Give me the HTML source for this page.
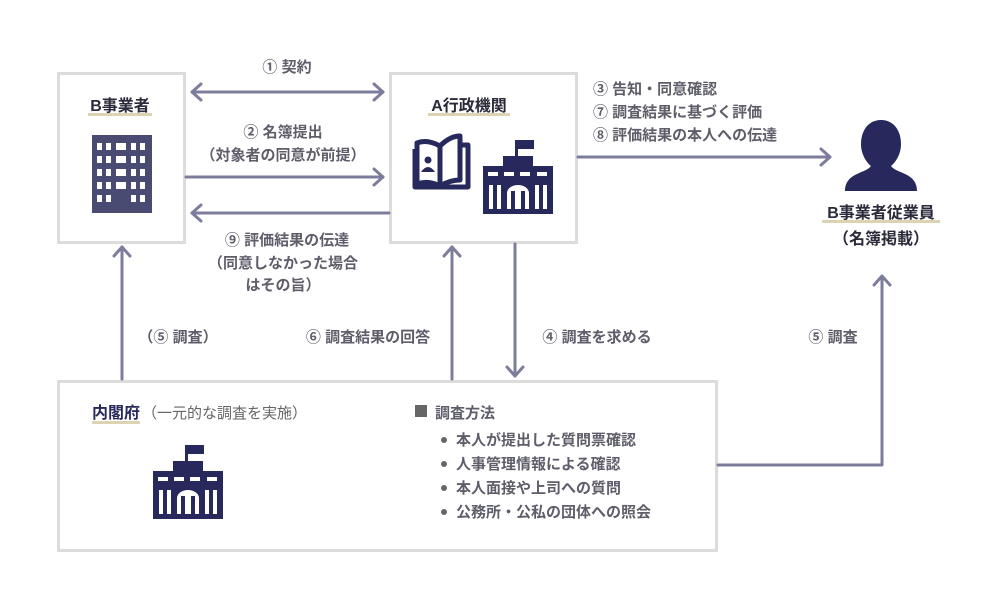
<!DOCTYPE html>
<html><head><meta charset="utf-8"><style>
html,body{margin:0;padding:0;background:#fff;}
svg{display:block;font-family:"Liberation Sans","Noto Sans CJK JP",sans-serif;}
.t{fill:#5e5e6a;font-size:15px;font-weight:bold;}
.h{fill:#2a2a3a;font-size:16px;font-weight:bold;}
</style></head><body>
<svg width="1000" height="610" viewBox="0 0 1000 610" xmlns="http://www.w3.org/2000/svg">
<defs>
<g id="gov">
 <rect x="32" y="0" width="3" height="18" fill="#27285c"/>
 <path d="M35 0 h16 v9 h-16z" fill="#27285c"/>
 <rect x="20" y="16" width="30" height="10" fill="#27285c"/>
 <rect x="0" y="26" width="70" height="48" fill="#27285c"/>
 <g fill="#fff"><rect x="5" y="32" width="10" height="4"/><rect x="21" y="32" width="10" height="4"/><rect x="37" y="32" width="10" height="4"/><rect x="54" y="32" width="10" height="4"/>
 <rect x="6" y="45" width="4" height="24"/><rect x="14" y="45" width="4" height="24"/><rect x="52" y="45" width="4" height="24"/><rect x="60" y="45" width="4" height="24"/>
 <path d="M24 69 v-16 a11 8 0 0 1 22 0 v16 h-4 v-18 h-4 v18 h-6 v-18 h-4 v18z"/></g>
</g>
</defs>
<rect x="58.5" y="73.5" width="126" height="169" fill="#fff" stroke="#dcdcdc" stroke-width="3"/>
<rect x="390.5" y="73.5" width="186" height="169" fill="#fff" stroke="#dcdcdc" stroke-width="3"/>
<rect x="58.5" y="381.5" width="658" height="169" fill="#fff" stroke="#dcdcdc" stroke-width="3"/>

<rect x="88" y="113" width="64" height="3" fill="#dcd3b2"/>
<text x="120" y="111" class="h" text-anchor="middle">B事業者</text>
<rect x="428" y="113" width="82" height="3" fill="#dcd3b2"/>
<text x="469" y="111" class="h" text-anchor="middle">A行政機関</text>

<rect x="92" y="135" width="60" height="78" fill="#4a4b72"/>
<g fill="#fff">
 <g id="row"><rect x="97" y="143" width="5" height="7"/><rect x="106" y="143" width="5" height="7"/><rect x="116" y="143" width="10" height="7"/><rect x="131" y="143" width="5" height="7"/><rect x="140" y="143" width="5" height="7"/></g>
 <use href="#row" y="13"/><use href="#row" y="26"/><use href="#row" y="39"/>
 <rect x="97" y="195" width="5" height="7"/><rect x="106" y="195" width="5" height="7"/><rect x="131" y="195" width="5" height="7"/><rect x="140" y="195" width="5" height="7"/>
</g>
<g fill="none" stroke="#27285c" stroke-width="5" stroke-linejoin="round">
 <path d="M417 143 q10 -4 23 3 v40 q-12 -6 -23 -2z"/>
 <path d="M440 146 q10 -10 20 -10 v44 q-10 0 -20 6z"/>
 <path d="M460 145 h8 v42 h-28 h-25 v-38"/>
</g>
<circle cx="428" cy="160" r="3.5" fill="#27285c"/><path d="M421 172 q7 -10 14 0z" fill="#27285c"/>
<use href="#gov" x="483" y="140"/>
<use href="#gov" x="153" y="445"/>

<path d="M881 120 c-13 0 -20 11 -20 24 c0 10 5 18 10 22 c-3 4 -8 5 -14 8 c-9 4 -12 10 -12 17 h72 c0 -7 -3 -13 -12 -17 c-6 -3 -11 -4 -14 -8 c5 -4 10 -12 10 -22 c0 -13 -7 -24 -20 -24z" fill="#27285c"/>
<rect x="822" y="220" width="118" height="3" fill="#dcd3b2"/>
<text x="881" y="218" class="h" text-anchor="middle">B事業者従業員</text>
<text x="881" y="244" class="h" text-anchor="middle">（名簿掲載）</text>

<g stroke="#7c7c9c" stroke-width="3" fill="none" stroke-linecap="round" stroke-linejoin="round">
 <line x1="192" y1="92" x2="383" y2="92"/><path d="M201 84 l-9 8 l9 8"/><path d="M374 84 l9 8 l-9 8"/>
 <line x1="186" y1="177" x2="383" y2="177"/><path d="M374 169 l9 8 l-9 8"/>
 <line x1="389" y1="213" x2="192" y2="213"/><path d="M201 205 l-9 8 l9 8"/>
 <line x1="578" y1="157" x2="830" y2="157"/><path d="M821 149 l9 8 l-9 8"/>
 <line x1="122" y1="379" x2="122" y2="247"/><path d="M114 256 l8 -9 l8 9"/>
 <line x1="452" y1="379" x2="452" y2="247"/><path d="M444 256 l8 -9 l8 9"/>
 <line x1="515" y1="244" x2="515" y2="376"/><path d="M507 367 l8 9 l8 -9"/>
 <path d="M718 465 h164 v-188"/><path d="M874 285 l8 -9 l8 9"/>
</g>

<text x="287" y="72" class="t" text-anchor="middle">① 契約</text>
<text x="283" y="137" class="t" text-anchor="middle">② 名簿提出</text>
<text x="283" y="160" class="t" text-anchor="middle">（対象者の同意が前提）</text>
<text x="287" y="245" class="t" text-anchor="middle">⑨ 評価結果の伝達</text>
<text x="283" y="268" class="t" text-anchor="middle">（同意しなかった場合</text>
<text x="283" y="290" class="t" text-anchor="middle">はその旨）</text>
<text x="593" y="94" class="t">③ 告知・同意確認</text>
<text x="593" y="117" class="t">⑦ 調査結果に基づく評価</text>
<text x="593" y="140" class="t">⑧ 評価結果の本人への伝達</text>
<text x="178" y="342" class="t" text-anchor="middle">（⑤ 調査）</text>
<text x="368" y="342" class="t" text-anchor="middle">⑥ 調査結果の回答</text>
<text x="597" y="342" class="t" text-anchor="middle">④ 調査を求める</text>
<text x="833" y="342" class="t" text-anchor="middle">⑤ 調査</text>

<rect x="92" y="421" width="48" height="3" fill="#dcd3b2"/>
<text x="92" y="418" class="h" style="fill:#27285c">内閣府</text>
<text x="142" y="418" style="fill:#666;font-size:15px;">（一元的な調査を実施）</text>
<rect x="415" y="405" width="12" height="12" fill="#666"/>
<text x="435" y="418" class="t">調査方法</text>
<circle cx="444" cy="440" r="3" fill="#666"/><text x="456" y="445" class="t">本人が提出した質問票確認</text>
<circle cx="444" cy="464" r="3" fill="#666"/><text x="456" y="469" class="t">人事管理情報による確認</text>
<circle cx="444" cy="488" r="3" fill="#666"/><text x="456" y="493" class="t">本人面接や上司への質問</text>
<circle cx="444" cy="512" r="3" fill="#666"/><text x="456" y="517" class="t">公務所・公私の団体への照会</text>
</svg>
</body></html>
